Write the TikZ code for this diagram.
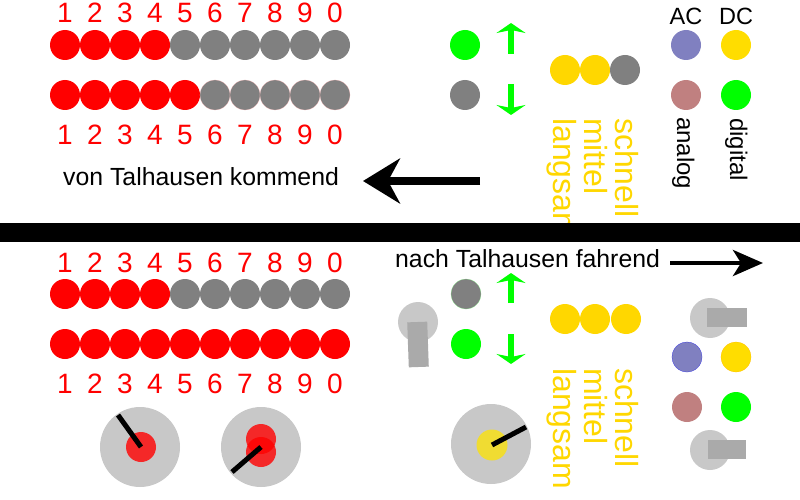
\documentclass[tikz,border=0pt]{standalone}
\usepackage{fontspec}
\setmainfont{Liberation Sans}
\usetikzlibrary{arrows.meta}
\definecolor{lred}{RGB}{255,0,0}
\definecolor{lgray}{RGB}{128,128,128}
\definecolor{lgreen}{RGB}{0,255,0}
\definecolor{lgold}{RGB}{255,215,0}
\definecolor{dcyellow}{RGB}{255,221,0}
\definecolor{acpurple}{RGB}{128,128,192}
\definecolor{anbrown}{RGB}{192,128,128}
\definecolor{knobgray}{RGB}{200,200,200}
\definecolor{levergray}{RGB}{170,170,170}
\definecolor{knobyellow}{RGB}{240,220,50}
\begin{document}
\begin{tikzpicture}[x=1pt,y=-1pt,
  lamp/.style={circle,inner sep=0pt,minimum size=30pt,draw=none},
  redlamp/.style={lamp,fill=lred},
  graylamp/.style={lamp,fill=lgray},
  digit/.style={text=lred,font=\fontsize{28}{28}\selectfont,inner sep=0pt,anchor=base},
  speedtxt/.style={text=lgold,font=\fontsize{32}{32}\selectfont,inner sep=0pt,anchor=base west,rotate=-90},
  modetxt/.style={text=black,font=\fontsize{24}{24}\selectfont,inner sep=0pt,anchor=base west,rotate=-90},
  labeltxt/.style={text=black,font=\fontsize{23.5}{23.5}\selectfont,inner sep=0pt,anchor=base},
  dirtxt/.style={text=black,font=\fontsize{24.8}{24.8}\selectfont,inner sep=0pt,anchor=base west},
  knobbase/.style={circle,inner sep=0pt,minimum size=80pt,fill=knobgray},
  knobred/.style={circle,inner sep=0pt,minimum size=30pt,fill=lred,fill opacity=0.8},
  knobpointer/.style={line width=5pt,black},
  switchbase/.style={circle,inner sep=0pt,minimum size=40pt,fill=knobgray},
  lever/.style={rectangle,inner sep=0pt,fill=levergray},
  greenarrow/.style={line width=5.5pt,lgreen,-{Stealth[length=10pt,width=29pt,inset=3pt]}},
]
\useasboundingbox (0,0) rectangle (800,500);

% ---------- lamp rows with digits ----------
\foreach \d [count=\i] in {1,2,3,4,5,6,7,8,9,0}{
  \pgfmathsetmacro{\xx}{35+30*\i}
  \node[digit] (ta\i) at (\xx,23) {\d};
  \node[digit] (tb\i) at (\xx,144) {\d};
  \node[digit] (ba\i) at (\xx,272) {\d};
  \node[digit] (bb\i) at (\xx,393) {\d};
}
\foreach \i in {1,...,10}{
  \pgfmathsetmacro{\xx}{35+30*\i}
  \ifnum\i<5
    \node[redlamp] (tr\i) at (\xx,45) {};
    \node[redlamp] (br\i) at (\xx,294) {};
  \else
    \node[graylamp] (tr\i) at (\xx,45) {};
    \node[graylamp] (br\i) at (\xx,294) {};
  \fi
  \ifnum\i<6
    \node[redlamp] (ts\i) at (\xx,95) {};
  \else
    \node[graylamp,draw=lred!25,line width=0.2pt] (ts\i) at (\xx,95) {};
  \fi
  \node[redlamp] (bs\i) at (\xx,344) {};
}

% ---------- upper half: direction lamps ----------
\node[lamp,fill=lgreen] (tgreen) at (465,45) {};
\node[lamp,fill=lgray] (tgray) at (465,95) {};
\coordinate (tua) at (511,54);
\coordinate (tub) at (511,23);
\coordinate (tda) at (511,84);
\coordinate (tdb) at (511,115);
\draw[greenarrow] (tua) -- (tub);
\draw[greenarrow] (tda) -- (tdb);

% speed lamps
\node[lamp,fill=lgold] (tsp1) at (565,70) {};
\node[lamp,fill=lgold] (tsp2) at (595,70) {};
\node[lamp,fill=lgray] (tsp3) at (625,70) {};
\node[speedtxt] (tschnell) at (615,118) {schnell};
\node[speedtxt] (tmittel) at (584,118) {mittel};
\node[speedtxt] (tlangsam) at (553,118) {langsam};

% AC / DC
\node[labeltxt] (ac) at (686,25) {AC};
\node[labeltxt] (dc) at (736,25) {DC};
\node[lamp,fill=acpurple] (tac) at (686,45) {};
\node[lamp,fill=dcyellow] (tdc) at (736,45) {};
\node[lamp,fill=anbrown] (tan) at (686,95) {};
\node[lamp,fill=lgreen] (tdi) at (736,95) {};
\node[modetxt] (analog) at (677,117) {analog};
\node[modetxt] (digital) at (730,118) {digital};

% direction text + arrow
\node[dirtxt] (von) at (63,185) {von Talhausen kommend};
\coordinate (vonA) at (480,181);
\coordinate (vonB) at (363,181);
\draw[line width=7.5pt,-{Stealth[length=37pt,width=45pt,inset=12pt]}] (vonA) -- (vonB);

% ---------- separating bar ----------
\fill[black] (0,223) rectangle (800,242);

% ---------- lower half ----------
\node[dirtxt] (nach) at (395,267) {nach Talhausen fahrend};
\coordinate (nachA) at (670,263);
\coordinate (nachB) at (763,263);
\draw[line width=4.5pt,-{Stealth[length=30pt,width=26pt,inset=8pt]}] (nachA) -- (nachB);

% left switch
\node[switchbase] (lsw) at (418,322) {};
\node[lever,minimum width=20pt,minimum height=45pt,rotate=2] (lswl) at (418,344.5) {};

% direction lamps
\node[lamp,fill=lgray,draw=lgreen!40,line width=0.2pt] (bgray) at (466,294) {};
\node[lamp,fill=lgreen] (bgreen) at (466,344) {};
\coordinate (bua) at (511,303);
\coordinate (bub) at (511,273);
\coordinate (bda) at (511,334);
\coordinate (bdb) at (511,364);
\draw[greenarrow] (bua) -- (bub);
\draw[greenarrow] (bda) -- (bdb);

% speed lamps
\node[lamp,fill=lgold] (bsp1) at (565,319) {};
\node[lamp,fill=lgold] (bsp2) at (595,319) {};
\node[lamp,fill=lgold] (bsp3) at (626,319) {};
\node[speedtxt] (bschnell) at (615,368) {schnell};
\node[speedtxt] (bmittel) at (584,368) {mittel};
\node[speedtxt] (blangsam) at (553,368) {langsam};

% right switches and AC/DC lamps
\node[switchbase] (rsw1) at (710,318) {};
\node[lever,minimum width=40pt,minimum height=19pt] (rsw1l) at (727,317.5) {};
\node[lamp,fill=acpurple,draw=blue!60!acpurple,line width=0.25pt] (bac) at (687,357) {};
\node[lamp,fill=dcyellow,draw=orange!40!dcyellow,line width=0.2pt] (bdc) at (736,357) {};
\node[lamp,fill=anbrown] (ban) at (687,407) {};
\node[lamp,fill=lgreen] (bdi) at (736,407) {};
\node[switchbase] (rsw2) at (710,450) {};
\node[lever,minimum width=38pt,minimum height=19pt] (rsw2l) at (727,449.5) {};

% knobs
\node[knobbase] (k1) at (140,447) {};
\node[knobred] (k1c) at (141,447) {};
\coordinate (k1p) at (118,415);
\draw[knobpointer] (k1c.center) -- (k1p);

\node[knobbase] (k2) at (261,447) {};
\node[knobred] (k2a) at (261,439) {};
\node[knobred] (k2b) at (261,452) {};
\coordinate (k2c) at (261,447);
\coordinate (k2p) at (232,472);
\draw[knobpointer] (k2c) -- (k2p);

\node[knobbase] (k3) at (491,444) {};
\node[circle,inner sep=0pt,minimum size=31pt,fill=knobyellow] (k3c) at (492,445) {};
\coordinate (k3p) at (526,427);
\draw[knobpointer] (k3c.center) -- (k3p);
\end{tikzpicture}
\end{document}
